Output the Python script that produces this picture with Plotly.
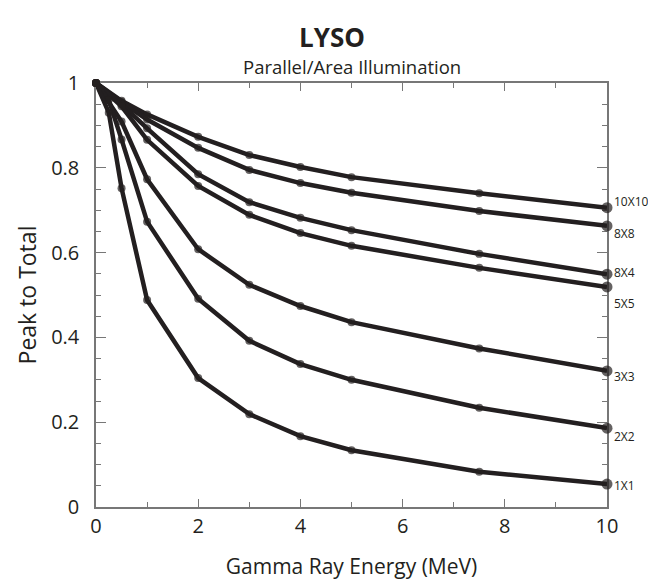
import plotly.graph_objects as go

# gamma ray energy (MeV) and peak-to-total ratios
energy_fine = [0, 0.25, 0.5, 1, 2, 3, 4, 5, 7.5, 10]
energy = [0, 0.5, 1, 2, 3, 4, 5, 7.5, 10]

p2t_10x10 = [1.0, 0.958, 0.926, 0.873, 0.830, 0.802, 0.778, 0.740, 0.706]
p2t_8x8 = [1.0, 0.955, 0.914, 0.847, 0.795, 0.764, 0.741, 0.698, 0.663]
p2t_8x4 = [1.0, 0.950, 0.893, 0.785, 0.719, 0.682, 0.653, 0.597, 0.549]
p2t_5x5 = [1.0, 0.945, 0.866, 0.757, 0.689, 0.646, 0.616, 0.564, 0.519]
p2t_3x3 = [1.0, 0.909, 0.773, 0.608, 0.524, 0.474, 0.436, 0.374, 0.321]
p2t_2x2 = [1.0, 0.960, 0.867, 0.673, 0.491, 0.392, 0.337, 0.300, 0.234, 0.186]
p2t_1x1 = [1.0, 0.930, 0.752, 0.488, 0.304, 0.219, 0.167, 0.134, 0.083, 0.054]

series_names = ["10X10", "8X8", "8X4", "5X5", "3X3", "2X2", "1X1"]
label_y = [0.720, 0.644, 0.552, 0.481, 0.307, 0.167, 0.050]

ink = "#231f20"
axis_grey = "#777"
font = "Open Sans"

series = [
    (energy, p2t_10x10),
    (energy, p2t_8x8),
    (energy, p2t_8x4),
    (energy, p2t_5x5),
    (energy, p2t_3x3),
    (energy_fine, p2t_2x2),
    (energy_fine, p2t_1x1),
]

fig = go.Figure()
for name, (xs, ys) in zip(series_names, series):
    fig.add_trace(
        go.Scatter(
            x=xs,
            y=ys,
            name=name,
            mode="lines+markers",
            line=dict(color=ink, width=4.5),
            marker=dict(color=ink, size=[8] * (len(xs) - 1) + [11], line=dict(width=0)),
            cliponaxis=False,
        )
    )

for name, yv in zip(series_names, label_y):
    fig.add_annotation(
        x=10, y=yv, xref="x", yref="y", text=name, showarrow=False,
        xanchor="left", xshift=5, font=dict(family=font, size=12, color=ink),
    )

fig.add_annotation(
    x=0.5, y=1, xref="paper", yref="paper", text="Parallel/Area Illumination",
    showarrow=False, yanchor="bottom", yshift=2,
    font=dict(family=font, size=18.5, color=ink),
)

# page body adds an 8px margin, so the figure is sized to fit inside it
fig.update_layout(
    width=648,
    height=576,
    margin=dict(l=88, r=49, t=75, b=77),
    paper_bgcolor="white",
    plot_bgcolor="white",
    showlegend=False,
    title=dict(
        text="<b>LYSO</b>", x=0.5, xanchor="center", y=1 - 30 / 576, yanchor="middle",
        font=dict(family=font, size=26, color=ink),
    ),
    font=dict(family=font, color=ink),
)

fig.update_xaxes(
    range=[0, 10], tickvals=[0, 2, 4, 6, 8, 10], ticks="inside", ticklen=8,
    tickcolor=axis_grey, showline=True, linecolor=axis_grey, linewidth=1.5, mirror="ticks",
    showgrid=False, zeroline=False, tickfont=dict(size=20), automargin=False,
    layer="below traces",
    minor=dict(dtick=1, ticks="inside", ticklen=5, tickcolor=axis_grey, showgrid=False),
    title=dict(text="Gamma Ray Energy (MeV)", font=dict(size=21), standoff=22),
)
fig.update_yaxes(
    range=[0, 1], tickvals=[0, 0.2, 0.4, 0.6, 0.8, 1],
    ticktext=["0", "0.2", "0.4", "0.6", "0.8", "1"], ticks="inside", ticklen=10,
    tickcolor=axis_grey, showline=True, linecolor=axis_grey, linewidth=1.5, mirror="ticks",
    showgrid=False, zeroline=False, tickfont=dict(size=20), automargin=False,
    ticklabelstandoff=11, layer="below traces",
    minor=dict(dtick=0.05, ticks="inside", ticklen=5, tickcolor=axis_grey, showgrid=False),
    title=dict(text="Peak to Total", font=dict(size=23), standoff=8),
)

fig.write_html("out.html")
